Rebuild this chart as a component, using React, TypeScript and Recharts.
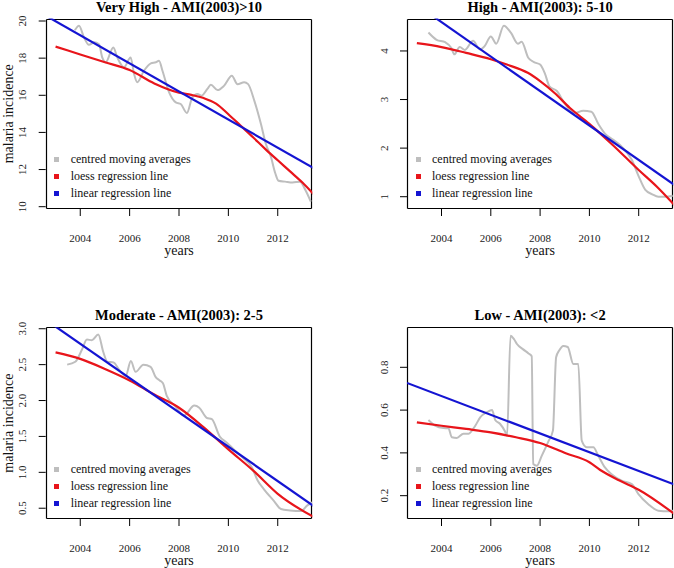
import React from 'react';
import { LineChart, Line, XAxis, YAxis, Legend } from 'recharts';

const xTicks = [2004, 2006, 2008, 2010, 2012];
const xDomain = [2002.6, 2013.4];

const seriesNames = ['centred moving averages', 'loess regression line', 'linear regression line'];
const seriesColors = ['#bebebe', '#e8151b', '#1414d2'];

// Very High - AMI(2003)>10
const vhMaYears = [2003.78, 2003.95, 2004.15, 2004.35, 2004.56, 2004.76, 2004.89, 2005.03, 2005.34, 2005.5, 2005.77, 2006.04, 2006.18, 2006.31, 2006.58, 2006.86, 2007.06, 2007.19, 2007.33, 2007.6, 2007.87, 2008.07, 2008.32, 2008.54, 2008.75, 2008.91, 2009.15, 2009.29, 2009.56, 2009.83, 2010.14, 2010.37, 2010.64, 2010.8, 2011.05, 2011.32, 2011.52, 2011.72, 2011.9, 2012.03, 2012.3, 2012.6, 2012.9, 2013.12, 2013.34];
const vhMaValues = [19.5, 19.75, 19.12, 18.72, 18.85, 18.75, 18.04, 17.78, 18.58, 18.04, 17.51, 18.04, 17.15, 16.7, 17.32, 17.72, 17.78, 17.86, 17.32, 16.16, 15.62, 15.53, 15.05, 15.89, 16.07, 15.98, 16.34, 16.57, 16.28, 16.52, 17.05, 16.6, 16.7, 16.6, 15.71, 14.45, 13.38, 12.7, 11.8, 11.4, 11.35, 11.3, 11.35, 10.9, 10.27];
const vhLoessYears = [2003, 2004, 2005, 2006, 2007, 2008, 2008.5, 2009, 2009.5, 2010, 2010.5, 2011, 2011.5, 2012, 2012.5, 2013, 2013.5];
const vhLoessValues = [18.62, 18.2, 17.78, 17.36, 16.64, 16.14, 16.02, 15.85, 15.55, 14.98, 14.36, 13.74, 13.1, 12.5, 11.9, 11.3, 10.6];
const vhLinYears = [2002.6, 2013.5];
const vhLinValues = [20.29, 12.04];
const vhYTicks = [10, 12, 14, 16, 18, 20];

// High - AMI(2003): 5-10
const hMaYears = [2003.47, 2003.8, 2004.15, 2004.4, 2004.52, 2004.74, 2004.95, 2005.28, 2005.56, 2005.75, 2006.0, 2006.22, 2006.53, 2006.82, 2007.1, 2007.25, 2007.52, 2007.75, 2008.0, 2008.2, 2008.38, 2008.67, 2009.0, 2009.4, 2009.75, 2010.08, 2010.36, 2010.63, 2010.97, 2011.31, 2011.72, 2012.0, 2012.27, 2012.55, 2012.8, 2013.1, 2013.38];
const hMaValues = [4.38, 4.23, 4.18, 4.06, 3.93, 4.08, 4.02, 4.21, 4.03, 4.1, 4.3, 4.15, 4.52, 4.37, 4.15, 4.19, 3.86, 3.77, 3.72, 3.53, 3.27, 3.18, 2.92, 2.72, 2.77, 2.75, 2.5, 2.3, 2.17, 2.03, 1.76, 1.42, 1.14, 1.05, 1.0, 1.0, 1.02];
const hLoessYears = [2003, 2004, 2005, 2006, 2006.65, 2007.5, 2008, 2008.6, 2009.2, 2010, 2010.4, 2011, 2012, 2012.75, 2013.5];
const hLoessValues = [4.16, 4.08, 3.96, 3.83, 3.72, 3.55, 3.38, 3.13, 2.83, 2.5, 2.32, 2.04, 1.55, 1.2, 0.8];
const hLinYears = [2002.6, 2013.5];
const hLinValues = [5.09, 1.225];
const hYTicks = [1, 2, 3, 4];

// Moderate - AMI(2003): 2-5
const mMaYears = [2003.47, 2003.8, 2004.07, 2004.27, 2004.47, 2004.73, 2004.93, 2005.1, 2005.35, 2005.57, 2005.84, 2006.05, 2006.24, 2006.56, 2006.85, 2007.05, 2007.22, 2007.35, 2007.5, 2007.85, 2008.2, 2008.62, 2008.82, 2009.12, 2009.33, 2009.65, 2009.95, 2010.22, 2010.6, 2010.95, 2011.18, 2011.45, 2011.85, 2012.13, 2012.5, 2012.95, 2013.2, 2013.4];
const mMaValues = [2.5, 2.54, 2.71, 2.85, 2.84, 2.92, 2.68, 2.54, 2.53, 2.43, 2.34, 2.55, 2.4, 2.5, 2.47, 2.33, 2.28, 2.24, 2.07, 1.92, 1.79, 1.93, 1.9, 1.76, 1.74, 1.5, 1.41, 1.32, 1.2, 1.07, 0.89, 0.76, 0.6, 0.49, 0.47, 0.46, 0.54, 0.58];
const mLoessYears = [2003, 2004, 2005, 2006, 2006.96, 2008, 2008.99, 2010, 2011.02, 2012, 2013.5];
const mLoessValues = [2.67, 2.58, 2.44, 2.28, 2.09, 1.9, 1.63, 1.32, 1.02, 0.7, 0.37];
const mLinYears = [2002.6, 2013.5];
const mLinValues = [3.125, 0.52];
const mYTicks = [0.5, 1.0, 1.5, 2.0, 2.5, 3.0];

// Low - AMI(2003): <2
const lMaYears = [2003.47, 2003.74, 2004.08, 2004.28, 2004.42, 2004.62, 2004.89, 2005.1, 2005.37, 2005.57, 2005.84, 2006.05, 2006.18, 2006.38, 2006.58, 2006.66, 2006.8, 2006.95, 2007.06, 2007.3, 2007.53, 2007.66, 2007.72, 2007.87, 2008.07, 2008.35, 2008.52, 2008.65, 2008.78, 2008.94, 2009.12, 2009.35, 2009.55, 2009.69, 2009.89, 2010.16, 2010.36, 2010.63, 2010.9, 2011.31, 2011.72, 2011.99, 2012.39, 2012.8, 2013.2, 2013.4];
const lMaValues = [0.554, 0.527, 0.516, 0.515, 0.473, 0.47, 0.49, 0.49, 0.527, 0.566, 0.59, 0.6, 0.554, 0.535, 0.5, 0.48, 0.948, 0.93, 0.909, 0.885, 0.865, 0.852, 0.348, 0.34, 0.387, 0.457, 0.504, 0.847, 0.88, 0.9, 0.895, 0.815, 0.815, 0.457, 0.426, 0.426, 0.387, 0.332, 0.3, 0.27, 0.254, 0.207, 0.16, 0.13, 0.127, 0.13];
const lLoessYears = [2003, 2004, 2005, 2006, 2007.02, 2008, 2009.04, 2010, 2010.44, 2011.2, 2012, 2013.5];
const lLoessValues = [0.543, 0.527, 0.512, 0.496, 0.473, 0.446, 0.398, 0.356, 0.32, 0.272, 0.228, 0.11];
const lLinYears = [2002.6, 2013.5];
const lLinValues = [0.727, 0.25];
const lYTicks = [0.2, 0.4, 0.6, 0.8];

const FONT = '"Liberation Serif", "DejaVu Serif", serif';
const W = 337;
const H = 284;

const toPoints = (xs: number[], ys: number[]) => xs.map((x, i) => ({ year: x, value: ys[i] }));

const XTick = (props: any) => {
  const { x, y, payload } = props;
  return (
    <text x={x} y={y + 25.5} textAnchor="middle" fontSize={11} fontFamily={FONT} fill="#222">
      {payload.value}
    </text>
  );
};

const makeYTick = (fmt: (v: number) => string) => (props: any) => {
  const { x, y, payload } = props;
  const bx = x - 12.3;
  return (
    <text
      x={bx}
      y={y}
      transform={`rotate(-90, ${bx}, ${y})`}
      textAnchor="middle"
      fontSize={11}
      fontFamily={FONT}
      fill="#222"
    >
      {fmt(payload.value)}
    </text>
  );
};

// legend keeps the plotting order (recharts would sort it by name)
const LegendBox = () => (
  <div style={{ fontFamily: FONT, fontSize: 12, color: '#111' }}>
    {seriesNames.map((name, i) => (
      <div key={name} style={{ height: 17, lineHeight: '17px', whiteSpace: 'nowrap', display: 'flex', alignItems: 'center' }}>
        <span style={{ display: 'inline-block', width: 5, height: 5, background: seriesColors[i], marginRight: 11.5 }} />
        <span>{name}</span>
      </div>
    ))}
  </div>
);

type PanelProps = {
  title: string;
  left: number;
  top: number;
  plotTop: number;
  titleY: number;
  axisWidth: number;
  rightMargin: number;
  bottomSpace: number;
  maYears: number[];
  maValues: number[];
  loessYears: number[];
  loessValues: number[];
  linYears: number[];
  linValues: number[];
  yDomain: number[];
  yTicks: number[];
  fmt: (v: number) => string;
  showYLabel: boolean;
};

const Panel: React.FC<PanelProps> = (p) => {
  const plotLeft = p.axisWidth;
  const plotRight = W - p.rightMargin;
  const plotBottom = H - p.bottomSpace;
  const cx = (plotLeft + plotRight) / 2;
  const cy = (p.plotTop + plotBottom) / 2;
  const YTick = makeYTick(p.fmt);
  const bx0 = Math.round(plotLeft) + 0.5;
  const bx1 = Math.round(plotRight) - 0.5;
  const by0 = Math.round(p.plotTop) + 0.5;
  const by1 = Math.round(plotBottom) - 0.5;
  const edge = { stroke: '#000', strokeWidth: 1.2 };
  return (
    <div style={{ position: 'absolute', left: p.left, top: p.top, width: W, height: H }}>
      <LineChart
        width={W}
        height={H}
        margin={{ top: p.plotTop, right: p.rightMargin, bottom: p.bottomSpace - 40, left: 0 }}
      >
        <XAxis
          dataKey="year"
          type="number"
          domain={xDomain}
          allowDataOverflow
          ticks={xTicks}
          interval={0}
          height={40}
          axisLine={false}
          tickLine={{ stroke: '#000' }}
          tickSize={7}
          tickMargin={0}
          tick={<XTick />}
        />
        <YAxis
          type="number"
          domain={p.yDomain}
          allowDataOverflow
          ticks={p.yTicks}
          interval={0}
          width={p.axisWidth}
          axisLine={false}
          tickLine={{ stroke: '#000' }}
          tickSize={7}
          tickMargin={0}
          tick={<YTick />}
        />
        <Line
          data={toPoints(p.maYears, p.maValues)}
          dataKey="value"
          type="monotone"
          name={seriesNames[0]}
          stroke={seriesColors[0]}
          strokeWidth={2}
          dot={false}
          isAnimationActive={false}
        />
        <Line
          data={toPoints(p.loessYears, p.loessValues)}
          dataKey="value"
          type="monotone"
          name={seriesNames[1]}
          stroke={seriesColors[1]}
          strokeWidth={2.2}
          dot={false}
          isAnimationActive={false}
        />
        <Line
          data={toPoints(p.linYears, p.linValues)}
          dataKey="value"
          type="linear"
          name={seriesNames[2]}
          stroke={seriesColors[2]}
          strokeWidth={2.2}
          dot={false}
          isAnimationActive={false}
        />
        <Legend
          layout="horizontal"
          verticalAlign="middle"
          align="center"
          wrapperStyle={{ left: plotLeft + 8.5, top: plotBottom - 58.5, width: 'auto', height: 'auto' }}
          content={<LegendBox />}
        />
        {/* box around the plot region, like R's box(); four separate edges */}
        <line x1={bx0} y1={by0} x2={bx1} y2={by0} {...edge} />
        <line x1={bx0} y1={by1} x2={bx1} y2={by1} {...edge} />
        <line x1={bx0} y1={by0} x2={bx0} y2={by1} {...edge} />
        <line x1={bx1} y1={by0} x2={bx1} y2={by1} {...edge} />
        <text x={cx} y={p.titleY} textAnchor="middle" fontSize={14.5} fontWeight="bold" fontFamily={FONT} fill="#000">
          {p.title}
        </text>
        <text x={cx} y={plotBottom + 46} textAnchor="middle" fontSize={14} fontFamily={FONT} fill="#111">
          years
        </text>
        {p.showYLabel && (
          <text
            x={13}
            y={cy}
            transform={`rotate(-90, 13, ${cy})`}
            textAnchor="middle"
            fontSize={14}
            fontFamily={FONT}
            fill="#111"
          >
            malaria incidence
          </text>
        )}
      </LineChart>
    </div>
  );
};

const intFmt = (v: number) => String(v);
const oneDec = (v: number) => v.toFixed(1);

export default function App() {
  return (
    <div style={{ position: 'absolute', left: 0, top: 0, width: 674, height: 568, background: '#fff' }}>
      <Panel
        title="Very High - AMI(2003)>10"
        left={0}
        top={0}
        plotTop={18.5}
        titleY={11.5}
        axisWidth={45.7}
        rightMargin={24.7}
        bottomSpace={75}
        maYears={vhMaYears}
        maValues={vhMaValues}
        loessYears={vhLoessYears}
        loessValues={vhLoessValues}
        linYears={vhLinYears}
        linValues={vhLinValues}
        yDomain={[9.876, 20.135]}
        yTicks={vhYTicks}
        fmt={intFmt}
        showYLabel
      />
      <Panel
        title="High - AMI(2003): 5-10"
        left={337}
        top={0}
        plotTop={18.5}
        titleY={11.5}
        axisWidth={70}
        rightMargin={0.8}
        bottomSpace={75}
        maYears={hMaYears}
        maValues={hMaValues}
        loessYears={hLoessYears}
        loessValues={hLoessValues}
        linYears={hLinYears}
        linValues={hLinValues}
        yDomain={[0.747, 4.668]}
        yTicks={hYTicks}
        fmt={intFmt}
        showYLabel={false}
      />
      <Panel
        title="Moderate - AMI(2003): 2-5"
        left={0}
        top={284}
        plotTop={43.3}
        titleY={36}
        axisWidth={45.7}
        rightMargin={24.7}
        bottomSpace={49}
        maYears={mMaYears}
        maValues={mMaValues}
        loessYears={mLoessYears}
        loessValues={mLoessValues}
        linYears={mLinYears}
        linValues={mLinValues}
        yDomain={[0.35, 3.02]}
        yTicks={mYTicks}
        fmt={oneDec}
        showYLabel
      />
      <Panel
        title="Low - AMI(2003): <2"
        left={337}
        top={284}
        plotTop={43.3}
        titleY={36}
        axisWidth={70}
        rightMargin={0.8}
        bottomSpace={49}
        maYears={lMaYears}
        maValues={lMaValues}
        loessYears={lLoessYears}
        loessValues={lLoessValues}
        linYears={lLinYears}
        linValues={lLinValues}
        yDomain={[0.091, 0.987]}
        yTicks={lYTicks}
        fmt={oneDec}
        showYLabel={false}
      />
    </div>
  );
}
